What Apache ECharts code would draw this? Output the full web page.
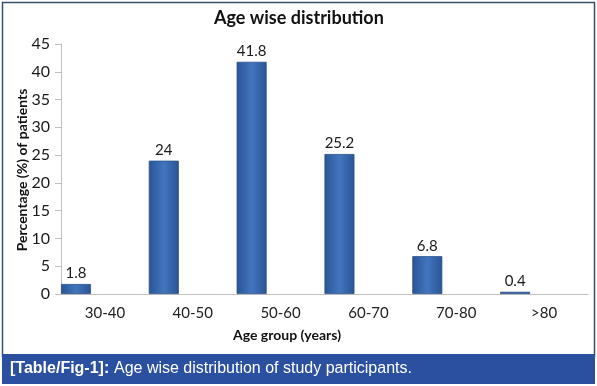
<!DOCTYPE html>
<html><head><meta charset="utf-8">
<script src="https://cdn.jsdelivr.net/npm/echarts@6/dist/echarts.min.js"></script>
<style>html,body{margin:0;padding:0;background:#fff}#c{width:597px;height:386px}</style>
</head><body><div id="c"></div>
<script>
const categories = ['30-40','40-50','50-60','60-70','70-80','>80'];
const values = [1.8, 24, 41.8, 25.2, 6.8, 0.4];
const yTicks = [0,5,10,15,20,25,30,35,40,45];
const chartTitle = 'Age wise distribution';
const xTitle = 'Age group (years)';
const yTitle = 'Percentage (%) of patients';
const captionBold = '[Table/Fig-1]:';
const captionText = 'Age wise distribution of study participants.';

const font = 'Lato, "Open Sans", sans-serif';
const chart = echarts.init(document.getElementById('c'), null, {renderer:'canvas'});
chart.setOption({
  animation: false,
  backgroundColor: '#fff',
  grid: {left: 61, right: 9, top: 44, bottom: 92},
  graphic: [
    {type:'rect', shape:{x:2.5, y:2.5, width:592, height:354}, style:{fill:'none', stroke:'#34506e', lineWidth:1.5}, z:-1},
    {type:'rect', shape:{x:2, y:354, width:593, height:30}, style:{fill:'#2c50a0'}},
    {type:'text', left:10, top:361, style:{text:captionBold, fill:'#fff', font:'bold 16px "Liberation Sans", Arial, sans-serif'}},
    {type:'text', left:114, top:361, style:{text:captionText, fill:'#fff', font:'16px "Liberation Sans", Arial, sans-serif'}},
    {type:'text', left:214, top:9, style:{text:chartTitle, fill:'#111', font:'bold 18px ' + font}},
    {type:'text', left:233, top:328, style:{text:xTitle, fill:'#111', font:'bold 14px ' + font}},
    {type:'text', x:22, y:170, rotation:Math.PI/2, style:{text:yTitle, fill:'#111', font:'bold 14px ' + font, textAlign:'center', textVerticalAlign:'middle'}}
  ],
  xAxis: {
    type:'category', data: categories,
    axisLine:{lineStyle:{color:'#c0c0c0', width:1}},
    axisTick:{show:false},
    axisLabel:{color:'#222', fontSize:15, fontFamily:font, margin:12}
  },
  yAxis: {
    type:'value', min:0, max:45, interval:5,
    axisLine:{show:true, lineStyle:{color:'#c0c0c0'}},
    axisTick:{show:true, length:6, lineStyle:{color:'#c0c0c0'}},
    splitLine:{show:false},
    axisLabel:{color:'#1a1a1a', fontSize:16, fontFamily:font, margin:11,
      formatter: v => yTicks.includes(v) ? String(v) : ''}
  },
  series: [
    {type:'bar', data: values, barWidth:30, barGap:'93%',
      itemStyle:{
        color: new echarts.graphic.LinearGradient(0,0,1,0,[
          {offset:0, color:'#2a5595'},
          {offset:0.5, color:'#4274bf'},
          {offset:1, color:'#2a5595'}
        ]),
        borderColor:'#2a4e88', borderWidth:0.8
      },
      label:{show:true, position:'top', distance:3, color:'#1a1a1a', fontSize:15, fontFamily:font}
    },
    {type:'bar', data: values.map(() => '-'), barWidth:30}
  ]
});
</script></body></html>
